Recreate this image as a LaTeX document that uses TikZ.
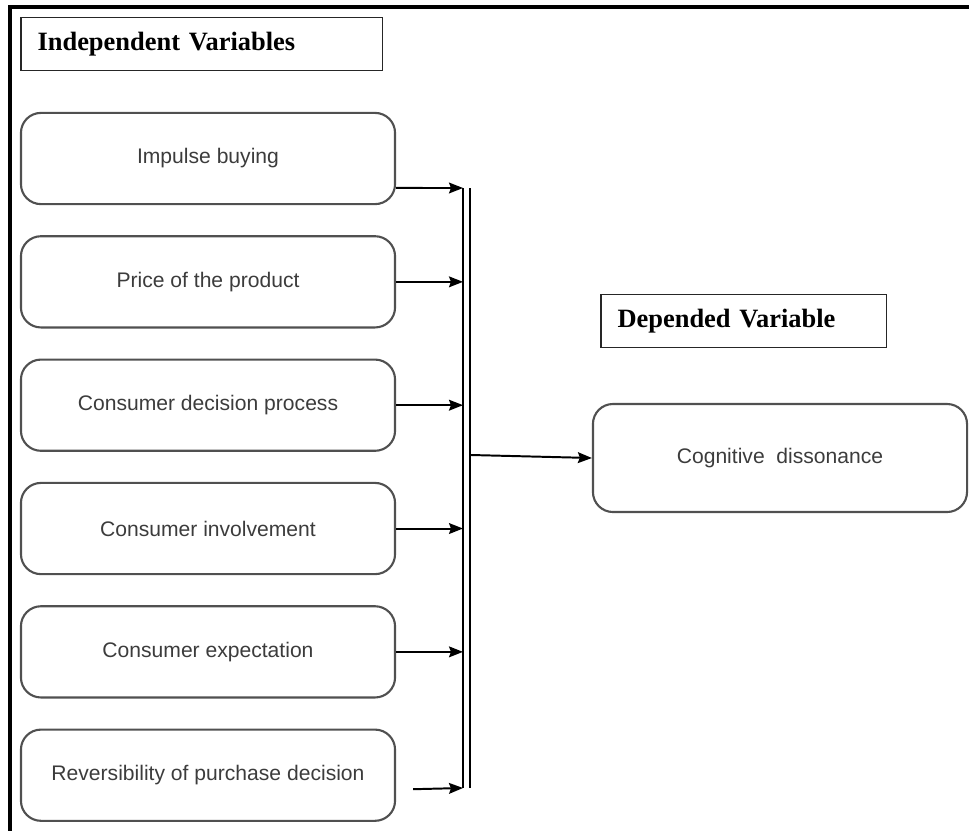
\documentclass[tikz,border=0pt]{standalone}
\usepackage{fontspec}
\setmainfont{Liberation Serif}
\newfontfamily\boxfont{Liberation Sans}
\usetikzlibrary{positioning,arrows.meta}
\definecolor{boxline}{HTML}{505050}
\definecolor{boxtext}{HTML}{3c3c3c}

\begin{document}
\begin{tikzpicture}[
  x=0.025cm,y=-0.025cm,
  var/.style={draw=boxline,line width=1.5pt,rounded corners=0.5cm,minimum width=9.35cm,minimum height=2.28cm,inner sep=0pt,text=boxtext,font=\boxfont\fontsize{15}{18}\selectfont},
  head/.style={draw=black!85,line width=1.1pt,anchor=west,minimum height=1.33cm,inner xsep=0.42cm,align=left,font=\bfseries\fontsize{18.8}{22}\selectfont},
  arr/.style={-{Stealth[length=0.35cm,width=0.27cm,inset=0.05cm]},line width=1.4pt},
  bar/.style={line width=1.3pt},
  node distance=0.75cm]
  \useasboundingbox (0,0) rectangle (969,831);
  % outer frame
  \draw[line width=2.2pt] (969,7) -- (10,7) -- (10,831);
  % headings
  \node[head,text width=8.2cm] (indep) at (20,44) {Independent Variables};
  \node[head,text width=6.3cm] (dep) at (600,321) {Depended Variable};
  % independent variables
  \node[var] (impulse) at (208,158.5) {Impulse buying};
  \node[var,below=of impulse] (price) {Price of the product};
  \node[var,below=of price] (process) {Consumer decision process};
  \node[var,below=of process] (involve) {Consumer involvement};
  \node[var,below=of involve] (expect) {Consumer expectation};
  \node[var,below=of expect] (revers) {Reversibility of purchase decision};
  % dependent variable
  \node[var,minimum height=2.7cm] (cogn) at (780,458) {Cognitive\ \ dissonance};
  % collecting bar
  \coordinate (barLtop) at (463,188);
  \coordinate (barLbot) at (463,788);
  \coordinate (barRtop) at (470,188);
  \coordinate (barRbot) at (470,788);
  \coordinate (barout) at (471,455);
  \draw[bar] (barLtop) -- (barLbot);
  \draw[bar] (barRtop) -- (barRbot);
  \draw[arr] ([yshift=0.43cm]impulse.south east) -- (barLtop);
  \draw[arr] (price.east) -- (price.east -| barLtop);
  \draw[arr] (process.east) -- (process.east -| barLtop);
  \draw[arr] (involve.east) -- (involve.east -| barLtop);
  \draw[arr] (expect.east) -- (expect.east -| barLtop);
  \draw[arr] ([shift={(17,14)}]revers.east) -- (barLbot);
  \draw[arr] (barout) -- (cogn.west);
\end{tikzpicture}
\end{document}
